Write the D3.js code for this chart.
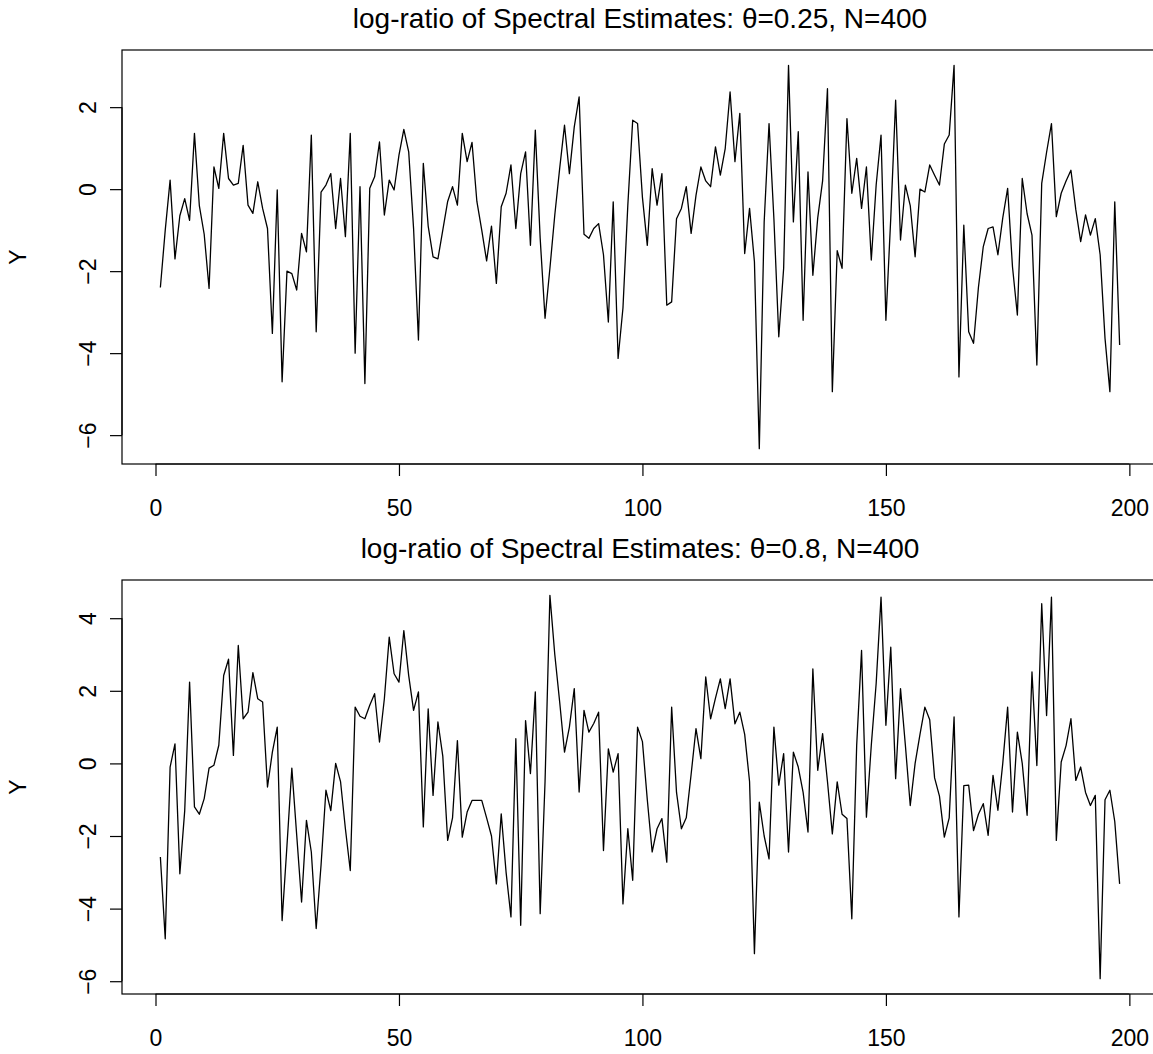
<!DOCTYPE html>
<html>
<head>
<meta charset="utf-8">
<script src="https://cdn.jsdelivr.net/npm/d3@7"></script>
<style>
  body { margin: 0; background: #fff; }
  text { font-family: "Liberation Sans", Arial, sans-serif; fill: #000; }
</style>
</head>
<body>
<svg id="chart" width="1153" height="1054"></svg>
<script>
// Axis ticks
const xTicks = [0, 50, 100, 150, 200];
const yTicksTop = [-6, -4, -2, 0, 2];
const yTicksBottom = [-6, -4, -2, 0, 2, 4];

// Titles and axis label
const titleTop = "log-ratio of Spectral Estimates: θ=0.25, N=400";
const titleBottom = "log-ratio of Spectral Estimates: θ=0.8, N=400";
const yLabel = "Y";

// log-ratio series, theta = 0.25 (index 1..198)
const logRatioTop = [
  -2.4, -1.0, 0.22, -1.7, -0.65, -0.23, -0.76, 1.36, -0.4, -1.1, -2.42, 0.54, 0.02, 1.36, 0.26, 0.1, 0.14,
  1.07, -0.39, -0.59, 0.18, -0.47, -0.96, -3.52, -0.02, -4.7, -2.0, -2.06, -2.46, -1.08, -1.53, 1.32, -3.48,
  -0.07, 0.1, 0.38, -0.96, 0.26, -1.16, 1.36, -4.0, 0.06, -4.74, 0.02, 0.3, 1.15, -0.63, 0.22, -0.02, 0.83,
  1.46, 0.91, -0.96, -3.68, 0.63, -0.9, -1.65, -1.7, -1.0, -0.3, 0.06, -0.39, 1.36, 0.67, 1.14, -0.3,
  -1.0, -1.75, -0.9, -2.3, -0.43, -0.1, 0.59, -0.96, 0.38, 0.91, -1.37, 1.44, -1.2, -3.15, -1.93, -0.63,
  0.5, 1.56, 0.38, 1.52, 2.25, -1.1, -1.2, -0.96, -0.84, -1.6, -3.24, -0.31, -4.13, -2.9, -0.39, 1.68, 1.6,
  -0.2, -1.37, 0.5, -0.39, 0.38, -2.83, -2.75, -0.72, -0.47, 0.06, -1.08, -0.15, 0.54, 0.2, 0.06, 1.03, 0.34,
  0.99, 2.37, 0.67, 1.85, -1.57, -0.47, -1.77, -6.33, -0.8, 1.6, -0.72, -3.6, -1.93, 3.02, -0.8, 1.4, -3.2,
  0.42, -2.1, -0.7, 0.2, 2.45, -4.94, -1.5, -1.93, 1.72, -0.1, 0.75, -0.47, 0.54, -1.73, 0.1, 1.32, -3.2,
  -0.7, 2.17, -1.24, 0.1, -0.4, -1.65, 0.0, -0.07, 0.59, 0.34, 0.1, 1.1, 1.32, 3.02, -4.58, -0.88, -3.48,
  -3.76, -2.4, -1.4, -0.96, -0.92, -1.6, -0.7, 0.02, -1.9, -3.07, 0.26, -0.6, -1.12, -4.29, 0.14, 0.9,
  1.6, -0.67, -0.1, 0.2, 0.46, -0.5, -1.28, -0.63, -1.12, -0.72, -1.6, -3.64, -4.94, -0.31, -3.8
];

// log-ratio series, theta = 0.8 (index 1..198)
const logRatioBottom = [
  -2.58, -4.83, -0.1, 0.54, -3.04, -1.3, 2.24, -1.2, -1.4, -0.97, -0.13, -0.05, 0.5, 2.42, 2.87, 0.22, 3.25,
  1.23, 1.41, 2.5, 1.78, 1.69, -0.65, 0.31, 1.0, -4.33, -2.26, -0.13, -1.98, -3.82, -1.57, -2.44, -4.55,
  -2.8, -0.74, -1.3, 0.0, -0.5, -1.8, -2.95, 1.55, 1.3, 1.23, 1.6, 1.92, 0.59, 1.78, 3.48, 2.47, 2.24,
  3.66, 2.42, 1.46, 1.97, -1.75, 1.5, -0.88, 1.14, 0.2, -2.12, -1.5, 0.63, -2.03, -1.34, -1.02, -1.02,
  -1.02, -1.5, -2.0, -3.32, -1.39, -3.0, -4.23, 0.68, -4.46, 1.18, -0.28, 1.97, -4.14, -0.5, 4.63, 3.0,
  1.7, 0.31, 1.0, 2.06, -0.79, 1.46, 0.86, 1.1, 1.41, -2.4, 0.4, -0.24, 0.27, -3.87, -1.8, -3.22, 1.0,
  0.6, -1.0, -2.44, -1.8, -1.52, -2.72, 1.55, -0.8, -1.8, -1.5, -0.3, 0.96, 0.13, 2.38, 1.23, 1.8, 2.33,
  1.51, 2.33, 1.09, 1.41, 0.8, -0.5, -5.24, -1.07, -2.0, -2.63, 1.0, -0.6, 0.27, -2.44, 0.31, -0.1, -0.8,
  -1.89, 2.6, -0.19, 0.82, -0.5, -1.94, -0.51, -1.4, -1.52, -4.28, 0.5, 3.11, -1.48, 0.5, 2.2, 4.58,
  1.05, 3.2, -0.42, 2.06, 0.5, -1.16, 0.0, 0.8, 1.55, 1.2, -0.4, -0.9, -2.03, -1.5, 1.28, -4.23, -0.61,
  -0.6, -1.85, -1.4, -1.11, -1.98, -0.33, -1.29, 0.0, 1.55, -1.34, 0.86, 0.0, -1.43, 2.52, -0.06, 4.4,
  1.32, 4.58, -2.12, 0.04, 0.49, 1.23, -0.47, -0.1, -0.8, -1.16, -0.88, -5.93, -1.0, -0.74, -1.6, -3.32
];

const svg = d3.select("#chart");
svg.append("rect").attr("width", 1153).attr("height", 1054).attr("fill", "#fff");

const plotLeft = 122, plotRight = 1158, plotHeight = 414;
const tickLen = 12;
const tickFont = 23, titleFont = 28;

// Pad a [lo, hi] range by 4% on each side
function padded(lo, hi) {
  const p = 0.04 * (hi - lo);
  return [lo - p, hi + p];
}

function drawPanel(top, values, yTicks, title) {
  const g = svg.append("g");
  const n = values.length;
  const pts = values.map((v, i) => ({ i: i + 1, v }));

  const x = d3.scaleLinear().domain(padded(1, n)).range([plotLeft, plotRight]);
  const y = d3.scaleLinear().domain(padded(d3.min(values), d3.max(values)))
    .range([top + plotHeight, top]);
  const bottom = top + plotHeight;

  // series
  g.append("path")
    .datum(pts)
    .attr("fill", "none")
    .attr("stroke", "#000")
    .attr("stroke-width", 1.3)
    .attr("stroke-linejoin", "round")
    .attr("d", d3.line().x(d => x(d.i)).y(d => y(d.v)));

  // frame
  g.append("rect")
    .attr("x", plotLeft).attr("y", top)
    .attr("width", plotRight - plotLeft).attr("height", plotHeight)
    .attr("fill", "none").attr("stroke", "#000").attr("stroke-width", 1.2);

  // x axis ticks + labels
  const xAxis = d3.axisBottom(x).tickValues(xTicks).tickSize(tickLen).tickPadding(8)
    .tickFormat(d3.format("d"));
  const xa = g.append("g").attr("transform", `translate(0,${bottom})`).call(xAxis);
  xa.select(".domain").attr("d", `M${x(xTicks[0])},0H${x(xTicks[xTicks.length - 1])}`)
    .attr("stroke", "#000").attr("stroke-width", 1.2);
  xa.selectAll(".tick line").attr("stroke", "#000").attr("stroke-width", 1.2);
  xa.selectAll(".tick text")
    .attr("font-size", tickFont)
    .attr("font-family", "Liberation Sans, Arial, sans-serif")
    .attr("y", 44).attr("dy", "0.35em");

  // y axis ticks + rotated labels
  const yAxis = d3.axisLeft(y).tickValues(yTicks).tickSize(tickLen).tickFormat(d3.format("d"));
  const ya = g.append("g").attr("transform", `translate(${plotLeft},0)`).call(yAxis);
  ya.select(".domain").attr("d", `M0,${y(yTicks[0])}V${y(yTicks[yTicks.length - 1])}`)
    .attr("stroke", "#000").attr("stroke-width", 1.2);
  ya.selectAll(".tick line").attr("stroke", "#000").attr("stroke-width", 1.2);
  ya.selectAll(".tick text")
    .attr("font-size", tickFont)
    .attr("font-family", "Liberation Sans, Arial, sans-serif")
    .attr("x", null).attr("dy", null)
    .attr("text-anchor", "middle")
    .attr("dominant-baseline", "central")
    .attr("transform", "translate(-34,0) rotate(-90)");

  // y label
  g.append("text")
    .attr("transform", `translate(18,${top + plotHeight / 2}) rotate(-90)`)
    .attr("text-anchor", "middle")
    .attr("dominant-baseline", "central")
    .attr("font-size", tickFont)
    .text(yLabel);

  // title
  g.append("text")
    .attr("x", (plotLeft + plotRight) / 2)
    .attr("y", top - 32)
    .attr("text-anchor", "middle")
    .attr("dominant-baseline", "central")
    .attr("font-size", titleFont)
    .text(title);
}

drawPanel(50, logRatioTop, yTicksTop, titleTop);
drawPanel(580, logRatioBottom, yTicksBottom, titleBottom);
</script>
</body>
</html>
